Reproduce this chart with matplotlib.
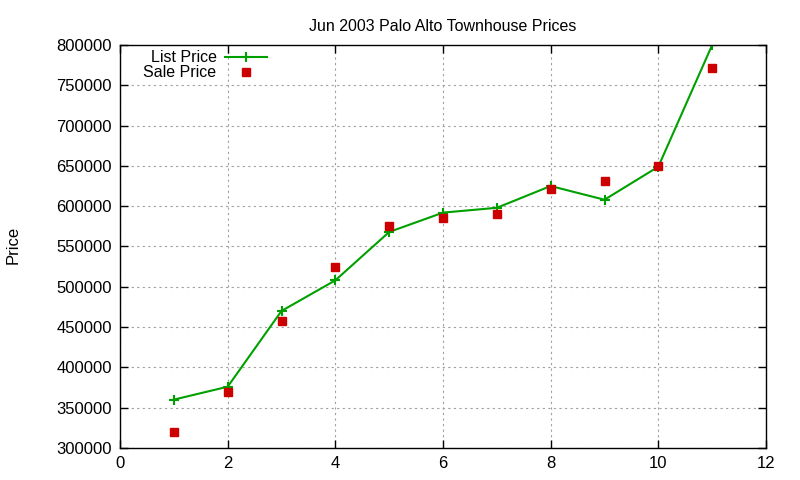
import matplotlib
matplotlib.use("Agg")
import matplotlib.pyplot as plt

# data
x_vals      = [1, 2, 3, 4, 5, 6, 7, 8, 9, 10, 11]
list_price  = [360000, 376000, 470000, 508000, 568000, 592000, 598000, 625000, 608000, 649000, 800000]
sale_price  = [320000, 370000, 457000, 525000, 575000, 585000, 590000, 621000, 631000, 650000, 772000]
x_ticks     = [0, 2, 4, 6, 8, 10, 12]
y_ticks     = list(range(300000, 800001, 50000))

plt.rcParams['font.family'] = ['Liberation Sans', 'DejaVu Sans']
plt.rcParams['font.size'] = 9

fig = plt.figure(figsize=(8, 4.8), dpi=100)
ax = fig.add_axes([0.15, 0.0667, 0.8075, 0.8396])

ax.plot(x_vals, list_price, color='#00a000', linewidth=1.5, marker='+',
        markersize=7, markeredgewidth=1.5, label='List Price')
ax.plot(x_vals, sale_price, linestyle='none', color='#cc0000', marker='s',
        markersize=5.5, label='Sale Price')

ax.set_xlim(0, 12)
ax.set_ylim(300000, 800000)
ax.set_xticks(x_ticks)
ax.set_yticks(y_ticks)
ax.grid(True, color='#a0a0a0', linestyle=(0, (2, 3)), linewidth=0.8)
ax.tick_params(direction='in', top=True, right=True, length=6, width=1, labelsize=12, pad=6)
for s in ax.spines.values():
    s.set_linewidth(1)

ax.set_title('Jun 2003 Palo Alto Townhouse Prices', fontsize=11.5, pad=10)
fig.text(0.016, 0.49, 'Price', rotation=90, fontsize=12, ha='center', va='center')

leg = ax.legend(loc='upper left', bbox_to_anchor=(0.019, 1.015), frameon=False,
                markerfirst=False, fontsize=11.5, handlelength=2.6,
                labelspacing=0.0, borderaxespad=0.3, handletextpad=0.55)
for t in leg.get_texts():
    t.set_ha('right')

fig.savefig('out.png', dpi=100)
